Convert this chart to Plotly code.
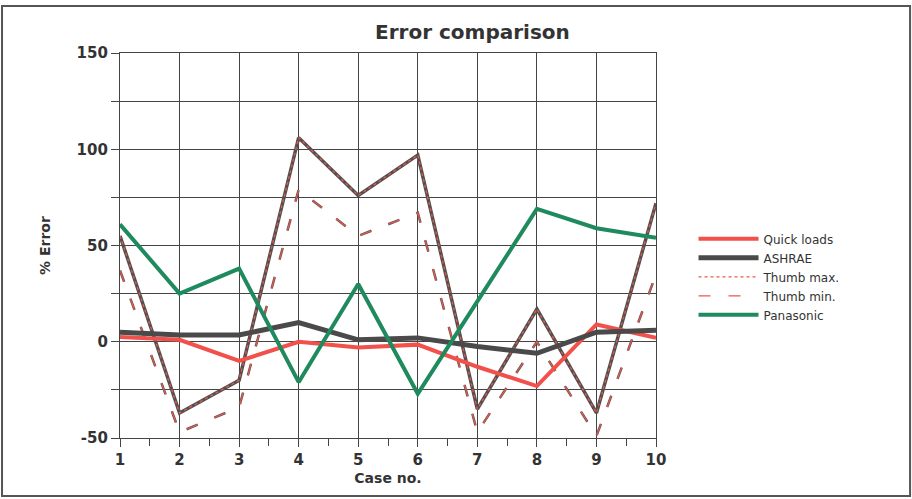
import plotly.graph_objects as go

cases = [1, 2, 3, 4, 5, 6, 7, 8, 9, 10]
quick_loads = [2.5, 1, -10, 0, -3, -1.5, -13, -23, 9, 2]
ashrae = [5, 3.5, 3.5, 10, 1, 2, -2.5, -6, 5, 6]
thumb_max = [55, -37, -20, 106, 76, 97, -35, 17, -37, 72]
thumb_min = [37, -47, -34, 79, 55, 67, -47, 0, -49, 35]
panasonic = [61, 25, 38, -21, 30, -27, 21, 69, 59, 54]

y_ticks = [-50, -25, 0, 25, 50, 75, 100, 125, 150]
y_ticktext = ["<b>-50</b>", "", "<b>0</b>", "", "<b>50</b>", "", "<b>100</b>", "", "<b>150</b>"]
x_ticks = cases
x_ticktext = ["<b>%d</b>" % c for c in cases]

FONT = "DejaVu Sans"
TXT = "#333333"

fig = go.Figure()

fig.add_trace(go.Scatter(x=cases, y=thumb_max, mode="lines", showlegend=False,
                         line=dict(color="#555050", width=3.5), hoverinfo="skip"))
fig.add_trace(go.Scatter(x=cases, y=thumb_max, mode="lines", name="Thumb max.",
                         line=dict(color="#e8584c", width=1.3, dash="dot"), legendrank=3))
fig.add_trace(go.Scatter(x=cases, y=thumb_min, mode="lines", showlegend=False,
                         line=dict(color="#605555", width=2.5, dash="12px,18px"), hoverinfo="skip"))
fig.add_trace(go.Scatter(x=cases, y=thumb_min, mode="lines", name="Thumb min.",
                         line=dict(color="#e8584c", width=1.2, dash="12px,18px"), legendrank=4))
fig.add_trace(go.Scatter(x=cases, y=quick_loads, mode="lines", name="Quick loads",
                         line=dict(color="#f2504a", width=4), legendrank=1))
fig.add_trace(go.Scatter(x=cases, y=ashrae, mode="lines", name="ASHRAE",
                         line=dict(color="#4a4a4a", width=5), legendrank=2))
fig.add_trace(go.Scatter(x=cases, y=panasonic, mode="lines", name="Panasonic",
                         line=dict(color="#1f8a5e", width=4), legendrank=5))

axis_common = dict(
    showgrid=True, gridcolor="#444444", gridwidth=1.3,
    showline=True, linecolor="#444444", linewidth=1.3, mirror=True,
    ticks="outside", ticklen=8, tickcolor="#444444", tickwidth=1.3,
    zeroline=False,
    tickfont=dict(family=FONT, size=15, color=TXT),
)

fig.update_xaxes(range=[1, 10], tickmode="array", tickvals=x_ticks, ticktext=x_ticktext,
                 minor=dict(tickmode="linear", tick0=1.5, dtick=1, ticks="outside", ticklen=7,
                            tickcolor="#444444", showgrid=False),
                 title=dict(text="<b>Case no.</b>", font=dict(family=FONT, size=14, color=TXT),
                            standoff=5),
                 **axis_common)
fig.update_yaxes(range=[-50, 150], tickmode="array", tickvals=y_ticks, ticktext=y_ticktext,
                 title=dict(text="<b>% Error</b>", font=dict(family=FONT, size=14, color=TXT),
                            standoff=22),
                 **axis_common)

fig.update_layout(
    width=912, height=499,
    margin=dict(l=120, r=256, t=53, b=61),
    paper_bgcolor="white", plot_bgcolor="white",
    title=dict(text="<b>Error comparison</b>", x=0.518, xanchor="center", y=0.935, yanchor="middle",
               font=dict(family=FONT, size=20, color=TXT)),
    legend=dict(x=1.07, y=0.555, xanchor="left", yanchor="top",
                font=dict(family=FONT, size=12, color=TXT),
                tracegroupgap=0, itemwidth=60, bgcolor="rgba(0,0,0,0)"),
    shapes=[dict(type="rect", xref="paper", yref="paper",
                 x0=-0.2201, x1=1.474, y0=-0.1506, y1=1.122,
                 line=dict(color="#555555", width=2))],
)

fig.write_html("out.html", config={"displayModeBar": False},
               post_script="document.body.style.margin='0px';")
